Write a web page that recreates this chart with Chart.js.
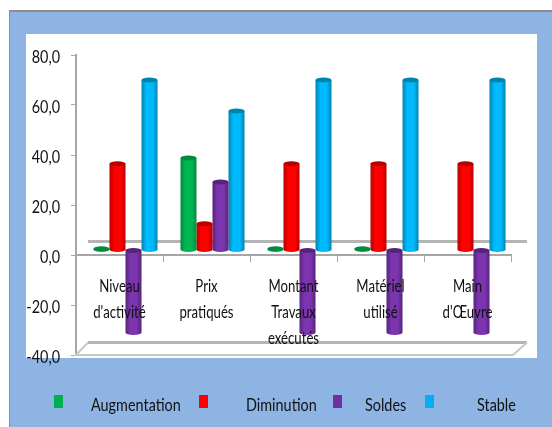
<!DOCTYPE html>
<html>
<head>
<meta charset="utf-8">
<style>
  html, body { margin: 0; padding: 0; background: #fff; }
  canvas { display: block; }
</style>
<script src="https://cdn.jsdelivr.net/npm/chart.js@4.4.4/dist/chart.umd.min.js"></script>
</head>
<body>
<canvas id="chart" width="552" height="427"></canvas>
<script>
const categories = [
  ['Niveau', "d'activité"],
  ['Prix', 'pratiqués'],
  ['Montant', 'Travaux', 'exécutés'],
  ['Matériel', 'utilisé'],
  ['Main', "d'Œuvre"]
];
const augmentation = [0.5, 36.8, 0.5, 0.5, 0];
const diminution = [34.5, 10.5, 34.5, 34.5, 34.5];
const soldes = [-33, 27.2, -33, -33, -33];
const stable = [68, 55.6, 68, 68, 68];

const FONT = "Lato, 'Liberation Sans', sans-serif";
const TEXT = '#111';
const AXIS = '#a6a6a6';

// colours: flat (legend), dark (bar edge and cap), bright (middle of the bar)
const palette = {
  Augmentation: ['#00B050', '#008a3e', '#00b653'],
  Diminution: ['#FF0000', '#b80000', '#ff0000'],
  Soldes: ['#7030A0', '#57247c', '#7b35ae'],
  Stable: ['#00B0F0', '#0084ad', '#00baff']
};

// legend slots: square left, text left
const legendSlots = [[54, 91], [199, 246], [333, 365], [425, 477]];

const canvas = document.getElementById('chart');
const c2d = canvas.getContext('2d');

// the reference text is a squeezed font, none is installed, so narrow it at draw time
const plainFillText = c2d.fillText.bind(c2d);
c2d.fillText = function (text, x, y) {
  c2d.save();
  c2d.translate(x, y + 2.5);
  c2d.scale(0.8, 1);
  plainFillText(text, 0, 0);
  c2d.restore();
};

function cylinder(ctx, el, colors) {
  const left = el.x - el.width / 2;
  const g = ctx.createLinearGradient(left, 0, left + el.width, 0);
  g.addColorStop(0, colors[1]);
  g.addColorStop(0.3, colors[2]);
  g.addColorStop(0.7, colors[2]);
  g.addColorStop(1, colors[1]);
  return g;
}

// panel behind the chart
const panel = {
  id: 'panel',
  beforeDraw(chart) {
    const { ctx, width, height } = chart;
    ctx.save();
    ctx.fillStyle = '#8EB4E3';
    ctx.fillRect(9, 11, width - 9, height - 11);
    ctx.fillStyle = '#8c8c8c';
    ctx.fillRect(9, 10, width - 9, 2);
    ctx.fillRect(9, 10, 1, height - 10);
    ctx.fillStyle = '#fff';
    ctx.fillRect(26, 34, 511, 324);
    ctx.restore();
  }
};

// fake 3D: floor and back line, bars pushed to the middle of the depth
const depth = {
  id: 'depth',
  beforeDatasetsDraw(chart) {
    const { ctx, chartArea, scales } = chart;
    const l = chartArea.left, r = chartArea.right;
    const bottom = scales.y.getPixelForValue(-40);
    const zero = scales.y.getPixelForValue(0);
    ctx.save();
    ctx.strokeStyle = '#b4b4b4';
    ctx.lineWidth = 3;
    ctx.beginPath();
    ctx.moveTo(l + 12, zero - 13.5);
    ctx.lineTo(r + 16, zero - 13.5);
    ctx.stroke();
    ctx.beginPath();
    ctx.moveTo(l + 12, bottom - 12.5);
    ctx.lineTo(r + 16, bottom - 12.5);
    ctx.stroke();
    ctx.strokeStyle = '#c8c8c8';
    ctx.lineWidth = 2;
    ctx.beginPath();
    ctx.moveTo(l + 12, bottom - 12.5);
    ctx.lineTo(l, bottom);
    ctx.lineTo(r + 2, bottom);
    ctx.lineTo(r + 16, bottom - 12.5);
    ctx.stroke();
    ctx.restore();

    ctx.save();
    ctx.translate(6, -5);

    chart.data.datasets.forEach((ds, i) => {
      const colors = palette[ds.label];
      chart.getDatasetMeta(i).data.forEach(el => {
        el.options = { ...el.options, backgroundColor: cylinder(ctx, el, colors) };
      });
    });
  },
  afterDatasetDraw(chart, args) {
    const { ctx } = chart;
    const ds = chart.data.datasets[args.index];
    const colors = palette[ds.label];
    args.meta.data.forEach((el, k) => {
      if (!ds.data[k]) return;
      const rx = el.width / 2;
      ctx.save();
      ctx.fillStyle = cylinder(ctx, el, colors);
      ctx.beginPath();
      ctx.ellipse(el.x, ds.data[k] > 0 ? el.base : el.y, rx, 2.5, 0, 0, Math.PI * 2);
      ctx.fill();
      ctx.fillStyle = colors[1];
      ctx.beginPath();
      ctx.ellipse(el.x, ds.data[k] > 0 ? el.y : el.base, rx, 2.5, 0, 0, Math.PI * 2);
      ctx.fill();
      ctx.restore();
    });
  },
  afterDatasetsDraw(chart) {
    chart.ctx.restore();
  }
};

// legend has uneven gaps in the reference, so it is laid out by hand
const slotLegend = {
  id: 'slotLegend',
  afterDraw(chart) {
    const { ctx } = chart;
    ctx.save();
    ctx.font = '18px ' + FONT;
    ctx.textBaseline = 'middle';
    chart.data.datasets.forEach((ds, i) => {
      const slot = legendSlots[i];
      ctx.fillStyle = palette[ds.label][0];
      ctx.fillRect(slot[0], 395, 9, 13);
      ctx.fillStyle = TEXT;
      ctx.fillText(ds.label, slot[1], 402.5);
    });
    ctx.restore();
  }
};

const makeSet = (label, data) => ({
  label,
  data,
  backgroundColor: palette[label][0],
  borderWidth: 0,
  categoryPercentage: 0.736,
  barPercentage: 1
});

new Chart(canvas, {
  type: 'bar',
  data: {
    labels: categories,
    datasets: [
      makeSet('Augmentation', augmentation),
      makeSet('Diminution', diminution),
      makeSet('Soldes', soldes),
      makeSet('Stable', stable)
    ]
  },
  options: {
    responsive: false,
    animation: false,
    layout: { padding: { top: 55, right: 41, bottom: 72, left: 0 } },
    plugins: {
      legend: { display: false },
      tooltip: { enabled: false }
    },
    scales: {
      x: {
        position: { y: 0 },
        grid: { drawOnChartArea: false, drawTicks: true, tickLength: 6, color: AXIS },
        border: { color: AXIS, width: 2 },
        ticks: {
          z: 1,
          color: TEXT,
          autoSkip: false,
          maxRotation: 0,
          padding: 10,
          font: { family: FONT, size: 16.5, lineHeight: 1.58 }
        }
      },
      y: {
        min: -40,
        max: 80,
        afterFit(scale) { scale.width = 76; },
        grid: { drawOnChartArea: false, drawTicks: true, tickLength: 5, color: AXIS },
        border: { color: AXIS, width: 2 },
        ticks: {
          stepSize: 20,
          color: TEXT,
          padding: 11,
          font: { family: FONT, size: 18 },
          callback: v => v.toFixed(1).replace('.', ',')
        }
      }
    }
  },
  plugins: [panel, depth, slotLegend]
});
</script>
</body>
</html>
